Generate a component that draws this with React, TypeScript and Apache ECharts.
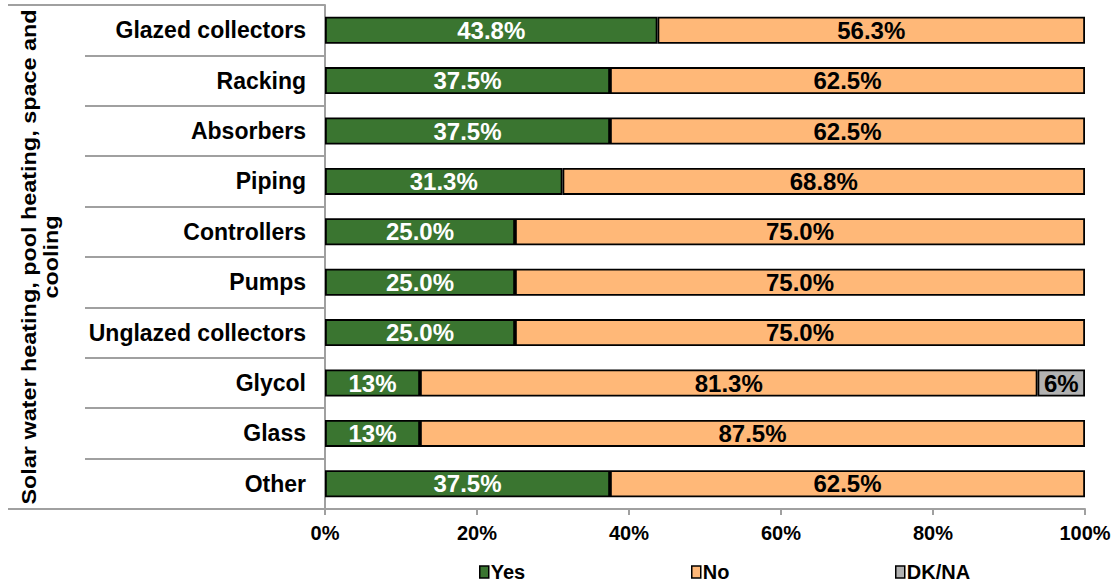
import React, { useEffect, useRef } from "react";
import * as echarts from "echarts";

const categories = [
  "Glazed collectors",
  "Racking",
  "Absorbers",
  "Piping",
  "Controllers",
  "Pumps",
  "Unglazed collectors",
  "Glycol",
  "Glass",
  "Other",
];
const yesValues = [43.75, 37.5, 37.5, 31.25, 25, 25, 25, 12.5, 12.5, 37.5];
const noValues = [56.25, 62.5, 62.5, 68.75, 75, 75, 75, 81.25, 87.5, 62.5];
const dkValues = [0, 0, 0, 0, 0, 0, 0, 6.25, 0, 0];
const xTicks = [0, 20, 40, 60, 80, 100];
const groupLabel = "Solar water heating, pool heating, space and\ncooling";

const FONT = "Liberation Sans, Arial, sans-serif";

const fmt = (v: number) => (v < 15 ? v.toFixed(0) : v.toFixed(1)) + "%";

export default function App() {
  const ref = useRef<HTMLDivElement>(null);
  useEffect(() => {
    const chart = echarts.init(ref.current!, null, { renderer: "svg" });
    const mkSeries = (name: string, data: number[], color: string, labelColor: string) => ({
      name,
      type: "bar",
      stack: "total",
      barWidth: 27,
      data: data.map((v) => (v > 0 ? v : null)),
      itemStyle: { color, borderColor: "#000", borderWidth: 1.8 },
      label: {
        show: true,
        position: "inside",
        formatter: (p: any) => fmt(p.value),
        color: labelColor,
        fontFamily: FONT,
        fontWeight: "bold",
        fontSize: 24,
      },
    });
    const legendBase = {
      top: 562,
      padding: 0,
      itemWidth: 9,
      itemHeight: 12,
      itemGap: 5,
      icon: "rect",
      textStyle: { fontFamily: FONT, fontWeight: "bold", fontSize: 20, color: "#000", padding: [2, 0, 0, -3] },
      itemStyle: { borderColor: "#000", borderWidth: 1.5 },
    };
    chart.setOption({
      animation: false,
      grid: { left: 325, right: 34, top: 5, bottom: 77, containLabel: false },
      xAxis: {
        type: "value",
        min: xTicks[0],
        max: xTicks[xTicks.length - 1],
        interval: 20,
        axisLine: { show: true, lineStyle: { color: "#a0a0a0", width: 2 } },
        axisTick: { show: true, length: 6, lineStyle: { color: "#a0a0a0", width: 2 } },
        splitLine: { show: false },
        axisLabel: {
          formatter: "{value}%",
          fontFamily: FONT,
          fontWeight: "bold",
          fontSize: 20,
          color: "#000",
          margin: 14,
        },
      },
      yAxis: {
        type: "category",
        data: categories,
        inverse: true,
        axisLine: { show: true, lineStyle: { color: "#a0a0a0", width: 2 } },
        axisTick: { show: true, length: 240, lineStyle: { color: "#a0a0a0", width: 2 } },
        axisLabel: {
          fontFamily: FONT,
          fontWeight: "bold",
          fontSize: 23,
          color: "#000",
          margin: 19,
        },
      },
      legend: [
        { ...legendBase, left: 479, data: ["Yes"] },
        { ...legendBase, left: 691, data: ["No"] },
        { ...legendBase, left: 895, data: ["DK/NA"] },
      ],
      graphic: [
        {
          type: "line",
          shape: { x1: 8, y1: 5, x2: 86, y2: 5 },
          style: { stroke: "#a0a0a0", lineWidth: 2 },
        },
        {
          type: "line",
          shape: { x1: 8, y1: 509, x2: 86, y2: 509 },
          style: { stroke: "#a0a0a0", lineWidth: 2 },
        },
        {
          type: "text",
          x: 40,
          y: 257,
          rotation: Math.PI / 2,
          scaleX: 1.17,
          style: {
            text: groupLabel,
            fontFamily: FONT,
            fontWeight: "bold",
            fontSize: 20,
            lineHeight: 22,
            fill: "#000",
            align: "center",
            verticalAlign: "middle",
          },
        },
      ],
      series: [
        mkSeries("Yes", yesValues, "#3a7530", "#fff"),
        mkSeries("No", noValues, "#ffb878", "#000"),
        mkSeries("DK/NA", dkValues, "#b2b2b2", "#000"),
      ],
    });
    return () => chart.dispose();
  }, []);
  return <div ref={ref} style={{ width: 1119, height: 586, position: "absolute", left: 0, top: 0 }} />;
}
